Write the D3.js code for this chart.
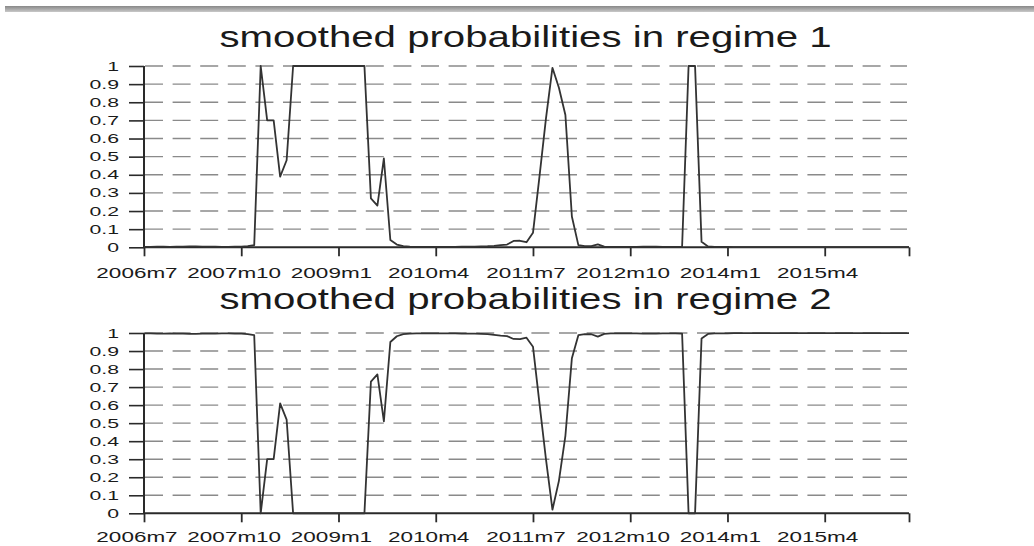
<!DOCTYPE html>
<html>
<head>
<meta charset="utf-8">
<script src="https://cdn.jsdelivr.net/npm/d3@7"></script>
<style>
  html, body { margin: 0; padding: 0; background: #ffffff; }
  svg { display: block; }
  text { font-family: "Liberation Sans", Arial, Helvetica, sans-serif; fill: #1a1a1a; }
</style>
</head>
<body>
<svg id="chart" width="1034" height="546"></svg>
<script>
// Monthly smoothed regime probabilities, 2006m7 .. 2016m5 (119 months)
const startYear = 2006, startMonth = 7;

// Regime 1 probabilities
const regime1 = [
  // 2006m7 - 2007m11
  0.002, 0.002, 0.003, 0.003, 0.002, 0.003, 0.004, 0.005, 0.005, 0.004,
  0.003, 0.003, 0.002, 0.002, 0.003, 0.004, 0.006,
  // 2007m12 - 2008m5
  0.012, 1.0, 0.70, 0.70, 0.39, 0.48,
  // 2008m6 - 2009m5
  1.0, 1.0, 1.0, 1.0, 1.0, 1.0, 1.0, 1.0, 1.0, 1.0, 1.0, 1.0,
  // 2009m6 - 2009m11
  0.27, 0.23, 0.49, 0.04, 0.015, 0.006,
  // 2009m12 - 2010m12
  0.003, 0.002, 0.002, 0.002, 0.002, 0.002, 0.002, 0.002, 0.003, 0.003,
  0.004, 0.005, 0.006,
  // 2011m1 - 2012m6
  0.008, 0.012, 0.015, 0.035, 0.036, 0.028, 0.08, 0.39, 0.71, 0.99,
  0.88, 0.73, 0.17, 0.012, 0.006, 0.006, 0.016, 0.004,
  // 2012m7 - 2013m5
  0.002, 0.002, 0.002, 0.002, 0.002, 0.003, 0.004, 0.003, 0.002, 0.002,
  0.002,
  // 2013m6 - 2013m10
  0.003, 1.0, 1.0, 0.03, 0.005,
  // 2013m11 - 2016m5
  0.002, 0.002, 0.002, 0.001, 0.001, 0.001, 0.001, 0.001, 0.001, 0.001,
  0.001, 0.001, 0.001, 0.001, 0.001, 0.001, 0.001, 0.001, 0.001, 0.001,
  0.001, 0.001, 0.001, 0.001, 0.001, 0.001, 0.001, 0.001, 0.001, 0.001,
  0.001
];

// Regime 2 probabilities
const regime2 = [
  // 2006m7 - 2007m11
  0.998, 0.998, 0.997, 0.997, 0.998, 0.997, 0.996, 0.995, 0.995, 0.996,
  0.997, 0.997, 0.998, 0.998, 0.997, 0.996, 0.994,
  // 2007m12 - 2008m5
  0.988, 0.0, 0.30, 0.30, 0.61, 0.52,
  // 2008m6 - 2009m5
  0.0, 0.0, 0.0, 0.0, 0.0, 0.0, 0.0, 0.0, 0.0, 0.0, 0.0, 0.0,
  // 2009m6 - 2009m11
  0.73, 0.77, 0.51, 0.95, 0.982, 0.994,
  // 2009m12 - 2010m12
  0.997, 0.998, 0.998, 0.998, 0.998, 0.998, 0.998, 0.998, 0.997, 0.997,
  0.996, 0.995, 0.994,
  // 2011m1 - 2012m6
  0.99, 0.985, 0.983, 0.967, 0.966, 0.974, 0.924, 0.61, 0.30, 0.02,
  0.18, 0.43, 0.86, 0.988, 0.994, 0.993, 0.98, 0.995,
  // 2012m7 - 2013m5
  0.998, 0.998, 0.998, 0.998, 0.998, 0.997, 0.996, 0.997, 0.998, 0.998,
  0.998,
  // 2013m6 - 2013m10
  0.997, 0.0, 0.0, 0.97, 0.995,
  // 2013m11 - 2016m5
  0.998, 0.998, 0.998, 0.999, 0.999, 0.999, 0.999, 0.999, 0.999, 0.999,
  0.999, 0.999, 0.999, 0.999, 0.999, 0.999, 0.999, 0.999, 0.999, 0.999,
  0.999, 0.999, 0.999, 0.999, 0.999, 0.999, 0.999, 0.999, 0.999, 0.999,
  0.999
];

// Time-axis ticks (month offsets from 2006m7) and their labels
const xTickMonths = [0, 15, 30, 45, 60, 75, 90, 105];
const xTickLabels = ["2006m7", "2007m10", "2009m1", "2010m4", "2011m7", "2012m10", "2014m1", "2015m4"];
const yTicks = [0, 0.1, 0.2, 0.3, 0.4, 0.5, 0.6, 0.7, 0.8, 0.9, 1];
const yTickLabels = ["0", "0.1", "0.2", "0.3", "0.4", "0.5", "0.6", "0.7", "0.8", "0.9", "1"];

const panels = [
  { title: "smoothed probabilities in regime 1", values: regime1, top: 66, bottom: 247.3, titleY: 47, labelY: 277.5 },
  { title: "smoothed probabilities in regime 2", values: regime2, top: 333, bottom: 513.3, titleY: 309, labelY: 541.5 }
];

const svg = d3.select("#chart");
const left = 144, right = 909;

// thin gray rule across the top of the page
const defs = svg.append("defs");
const grad = defs.append("linearGradient").attr("id", "rule").attr("x1", 0).attr("y1", 0).attr("x2", 0).attr("y2", 1);
grad.append("stop").attr("offset", "0%").attr("stop-color", "#888888");
grad.append("stop").attr("offset", "100%").attr("stop-color", "#c8c8c8");
svg.append("rect").attr("x", 5).attr("y", 6).attr("width", 1029).attr("height", 6).attr("fill", "url(#rule)");

const nMonths = regime1.length - 1;
const x = d3.scaleLinear().domain([0, nMonths]).range([left, right]);

panels.forEach(p => {
  const y = d3.scaleLinear().domain([0, 1]).range([p.bottom, p.top]);
  const g = svg.append("g");

  // dashed horizontal gridlines
  g.append("g").selectAll("line")
    .data(yTicks.filter(v => v > 0))
    .join("line")
    .attr("x1", left + 1).attr("x2", right - 2)
    .attr("y1", d => y(d)).attr("y2", d => y(d))
    .attr("stroke", "#8a8a8a").attr("stroke-width", 1.4)
    .attr("stroke-dasharray", "18 9.6");

  // y axis: long outward ticks, stretched labels
  const yAxis = d3.axisLeft(y).tickValues(yTicks).tickSize(15).tickPadding(0).tickFormat("");
  const ya = g.append("g").attr("transform", `translate(${left},0)`).call(yAxis);
  ya.select(".domain").attr("stroke", "#2a2a2a").attr("stroke-width", 2).attr("d", `M0,${p.top}V${p.bottom}`);
  ya.selectAll(".tick line").attr("stroke", "#2a2a2a").attr("stroke-width", 1.6);
  g.append("g").selectAll("text")
    .data(yTicks)
    .join("text")
    .attr("transform", d => `translate(119,${y(d)}) scale(1.7,1)`)
    .attr("text-anchor", "end")
    .attr("dy", "0.36em")
    .attr("font-size", 12.5)
    .text((d, i) => yTickLabels[i]);

  // x axis with ticks at the labelled months and at the range end
  const xAxis = d3.axisBottom(x).tickValues(xTickMonths.concat([nMonths])).tickSize(9).tickFormat("");
  const xa = g.append("g").attr("transform", `translate(0,${p.bottom})`).call(xAxis);
  xa.select(".domain").attr("stroke", "#2a2a2a").attr("stroke-width", 2).attr("d", `M${left},0H${right}`);
  xa.selectAll(".tick line").attr("stroke", "#2a2a2a").attr("stroke-width", 1.8);
  g.append("g").selectAll("text")
    .data(xTickMonths)
    .join("text")
    .attr("transform", d => `translate(${x(d) - 7},${p.labelY}) scale(1.5,1)`)
    .attr("text-anchor", "middle")
    .attr("font-size", 15)
    .text((d, i) => xTickLabels[i]);

  // series line
  const line = d3.line().x((d, i) => x(i)).y(d => y(d));
  g.append("path")
    .datum(p.values)
    .attr("fill", "none")
    .attr("stroke", "#333333")
    .attr("stroke-width", 1.8)
    .attr("stroke-linejoin", "round")
    .attr("d", line);

  // panel title
  svg.append("text")
    .attr("transform", `translate(${(left + right) / 2 - 1},${p.titleY}) scale(1.34,1)`)
    .attr("text-anchor", "middle")
    .attr("font-size", 30)
    .attr("fill", "#111")
    .text(p.title);
});
</script>
</body>
</html>
